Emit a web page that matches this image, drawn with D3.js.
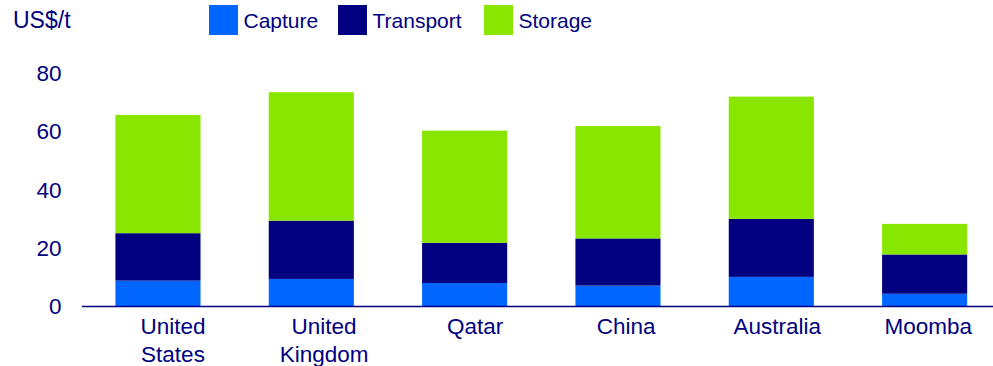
<!DOCTYPE html>
<html>
<head>
<meta charset="utf-8">
<script src="https://cdn.jsdelivr.net/npm/d3@7"></script>
<style>
  html, body { margin: 0; padding: 0; background: #ffffff; }
  svg { display: block; font-family: "Liberation Sans", Arial, sans-serif; }
</style>
</head>
<body>
<svg id="chart" width="993" height="366"></svg>
<script>
// CCS cost breakdown per site, US$ per tonne of CO2
const categories = [["United", "States"], ["United", "Kingdom"], ["Qatar"], ["China"], ["Australia"], ["Moomba"]];
const seriesNames = ["Capture", "Transport", "Storage"];
const capture   = [8.7, 9.3, 7.9, 7.0, 10.0, 4.2];
const transport = [16.3, 20.0, 13.8, 16.2, 19.9, 13.5];
const storage   = [40.6, 44.1, 38.5, 38.6, 42.0, 10.5];
const yTicks = [0, 20, 40, 60, 80];
const unitLabel = "US$/t";

const colors = { Capture: "#0066FF", Transport: "#000080", Storage: "#88E600" };
const textColor = "#000080";

const keys = categories.map(c => c.join(" "));
const rows = keys.map((k, i) => ({ key: k, Capture: capture[i], Transport: transport[i], Storage: storage[i] }));

const svg = d3.select("#chart");

const x = d3.scaleBand()
  .domain(keys)
  .range([81.3, 1001.3])
  .paddingInner(0.445)
  .paddingOuter(0.2225);

// category labels sit on their own evenly spaced positions
const xLabel = d3.scalePoint().domain(keys).range([173, 928.3]);

const y = d3.scaleLinear().domain([0, 80]).range([306, 73]);

const stacked = d3.stack().keys(seriesNames)(rows);

svg.append("g")
  .selectAll("g")
  .data(stacked)
  .join("g")
  .attr("fill", d => colors[d.key])
  .selectAll("rect")
  .data(d => d)
  .join("rect")
  .attr("x", d => x(d.data.key))
  .attr("width", x.bandwidth())
  .attr("y", d => y(d[1]))
  .attr("height", d => y(d[0]) - y(d[1]));

// baseline
svg.append("line")
  .attr("x1", 82).attr("x2", 993)
  .attr("y1", y(0) + 0.5).attr("y2", y(0) + 0.5)
  .attr("stroke", textColor)
  .attr("stroke-width", 1.5);

// y tick labels
svg.append("g")
  .selectAll("text")
  .data(yTicks)
  .join("text")
  .attr("x", 61.5)
  .attr("y", d => y(d))
  .attr("dy", "0.36em")
  .attr("text-anchor", "end")
  .attr("fill", textColor)
  .style("font-size", "22.5px")
  .text(d => d);

// category labels
const cat = svg.append("g")
  .selectAll("text")
  .data(categories)
  .join("text")
  .attr("text-anchor", "middle")
  .attr("fill", textColor)
  .style("font-size", "22.5px")
  .attr("x", (d, i) => xLabel(keys[i]))
  .attr("y", 334);
cat.selectAll("tspan")
  .data(d => d)
  .join("tspan")
  .attr("x", function () { return d3.select(this.parentNode).attr("x"); })
  .attr("dy", (d, i) => i === 0 ? 0 : 27.5)
  .text(d => d);

// unit label
svg.append("text")
  .attr("x", 13)
  .attr("y", 28.3)
  .attr("fill", textColor)
  .style("font-size", "23px")
  .text(unitLabel);

// legend
const legendX = d3.scaleOrdinal().domain(seriesNames).range([209, 338, 484]);
const lg = svg.append("g")
  .selectAll("g")
  .data(seriesNames)
  .join("g")
  .attr("transform", d => `translate(${legendX(d)},0)`);
lg.append("rect")
  .attr("x", 0).attr("y", 5)
  .attr("width", 29).attr("height", 30)
  .attr("fill", d => colors[d]);
lg.append("text")
  .attr("x", 34.5)
  .attr("y", 28.3)
  .attr("fill", textColor)
  .style("font-size", "21px")
  .text(d => d);
</script>
</body>
</html>
